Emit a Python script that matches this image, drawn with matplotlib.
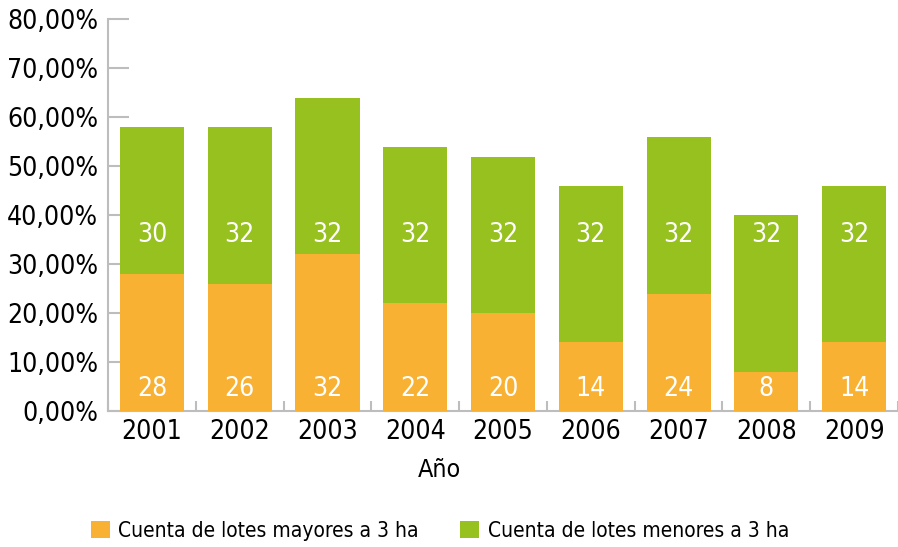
import matplotlib
matplotlib.use('Agg')
import matplotlib.pyplot as plt
import numpy as np

years = ['2001', '2002', '2003', '2004', '2005', '2006', '2007', '2008', '2009']
mayores = [28, 26, 32, 22, 20, 14, 24, 8, 14]
menores = [30, 32, 32, 32, 32, 32, 32, 32, 32]
yticks = [0, 10, 20, 30, 40, 50, 60, 70, 80]

plt.rcParams['font.family'] = ['DejaVu Sans']
plt.rcParams['font.stretch'] = 'condensed'

orange = '#F8B133'
green = '#97C11F'
grey = '#BDBDBD'

fig = plt.figure(figsize=(8.98, 5.47), dpi=100)
ax = fig.add_axes([0.1203, 0.2486, 0.8797, 0.7158])

x = np.arange(len(years))
ax.bar(x, mayores, width=0.73, color=orange, zorder=3, label='Cuenta de lotes mayores a 3 ha')
ax.bar(x, menores, width=0.73, bottom=mayores, color=green, zorder=3, label='Cuenta de lotes menores a 3 ha')

# value labels sit at fixed heights inside each segment
for i in range(len(years)):
    ax.text(x[i], 4.5, str(mayores[i]), ha='center', va='center', color='white', fontsize=19, zorder=4)
    ax.text(x[i], 36, str(menores[i]), ha='center', va='center', color='white', fontsize=19, zorder=4)

ax.set_xlim(-0.5, 8.5)
ax.set_ylim(0, 80)
ax.set_yticks(yticks)
ax.set_yticklabels(['%d,00%%' % v for v in yticks], fontsize=19)
ax.set_xticks(x)
ax.set_xticklabels(years, fontsize=19)
ax.set_xticks(np.arange(-0.5, 9.0, 1.0), minor=True)

for side in ['top', 'right']:
    ax.spines[side].set_visible(False)
for side in ['left', 'bottom']:
    ax.spines[side].set_color(grey)
    ax.spines[side].set_linewidth(1.5)

ax.tick_params(axis='y', direction='in', length=15, width=1.5, color=grey, pad=7)
ax.tick_params(axis='x', which='major', length=0, pad=6)
ax.tick_params(axis='x', which='minor', direction='in', length=7, width=1.5, color=grey)

ax.set_xlabel('Año', fontsize=18, labelpad=8)
ax.xaxis.set_label_coords(0.42, -0.12)

fig.legend(loc='center', bbox_to_anchor=(0.49, 0.03), ncol=2, frameon=False,
           fontsize=15, handlelength=0.9, handleheight=0.9, handletextpad=0.4, columnspacing=2.0)

fig.savefig('out.png', dpi=100)
